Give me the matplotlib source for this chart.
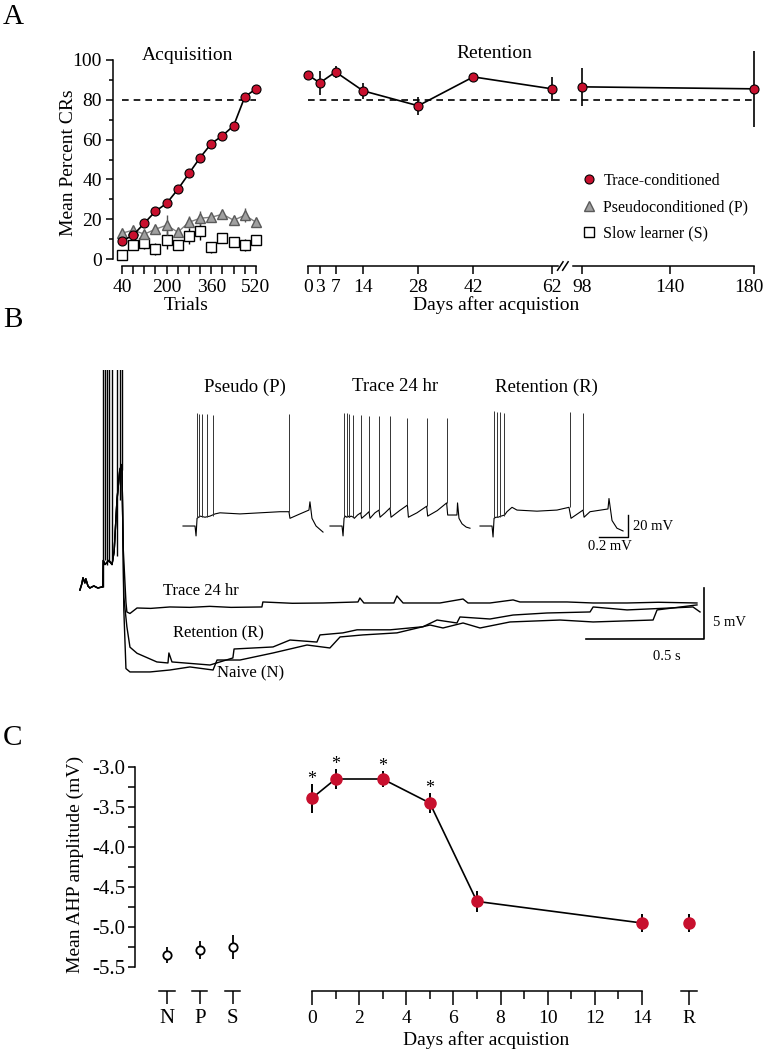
import numpy as np
import matplotlib.pyplot as plt
import matplotlib.transforms as mtransforms
from matplotlib.lines import Line2D

W, H = 763, 1050
RED = '#c8102e'

# ---- Panel A: acquisition (percent CRs per 40-trial block)
trials = [40, 80, 120, 160, 200, 240, 280, 320, 360, 400, 440, 480, 520]
trace_acq = [9, 12, 18, 24, 28, 35, 43, 51, 58, 62, 67, 81.5, 85.5]
trace_acq_err = [1.5, 1.5, 1.5, 2, 2, 2, 2, 2, 2, 2, 2, 1.5, 1]
pseudo_acq = [13, 14.5, 12.5, 15, 17, 13.5, 18.5, 20.5, 21, 22.5, 19.5, 22, 18.5]
pseudo_acq_err = [1.5, 1.5, 1.5, 2, 5, 2, 3, 3.5, 2, 2, 2, 3.5, 2]
slow_acq = [2.2, 7.2, 8, 5.2, 9.4, 7, 11.7, 14, 5.8, 10.5, 8.5, 7.2, 9.7]
slow_acq_err = [2, 2.5, 3, 3, 4.5, 2.5, 4, 4.5, 3, 2.5, 2.5, 3, 2]

# ---- Panel A: retention
ret_days = [0, 3, 7, 14, 28, 42, 62]
ret_pct = [92.5, 88.5, 94, 84.5, 77, 91.5, 85.5]
ret_err = [1, 6, 3, 4, 4.5, 1, 6]
late_days = [98, 180]
late_pct = [86.5, 85.5]
late_err = [9.5, 19]
criterion = 80

# ---- Panel B: AHP traces (time in s, mV relative to baseline)
pre_t = [0, 0.008, 0.013, 0.021, 0.025, 0.034, 0.042, 0.059, 0.076, 0.093, 0.097]
pre_v = [-0.3, 0.3, 0.9, 0.4, 0.8, 0.1, -0.1, 0.1, -0.1, 0, 0]
burst_t = [0.099, 0.106, 0.114, 0.123, 0.136, 0.145, 0.157, 0.169, 0.178]
burst_v = [2.6, 2.2, 2.4, 2.6, 2.2, 3.5, 8.5, 11.5, 12.0]
burst_spike_t = [0.097, 0.106, 0.114, 0.123, 0.136, 0.157, 0.169, 0.178]
burst_spike_base = [0, 2.6, 2.2, 2.4, 2.6, 3.0, 8.5, 11.5]

t24_t = [0.183, 0.195, 0.199, 0.212, 0.242, 0.30, 0.381, 0.466, 0.55, 0.64, 0.771,
         0.775, 0.90, 1.03, 1.178, 1.186, 1.203, 1.33, 1.343, 1.369, 1.525, 1.623,
         1.644, 1.737, 1.835, 1.864, 2.064, 2.174, 2.318, 2.45, 2.614]
t24_v = [4.0, -1.5, -2.45, -2.6, -2.06, -2.1, -1.96, -2.0, -1.9, -2.0, -1.96,
         -1.47, -1.6, -1.57, -1.47, -1.08, -1.57, -1.57, -0.88, -1.57, -1.57, -1.18,
         -1.57, -1.57, -1.27, -1.47, -1.47, -1.57, -1.57, -1.5, -1.57]

ret_t = [0.183, 0.186, 0.199, 0.212, 0.242, 0.326, 0.373, 0.377, 0.39, 0.551, 0.648,
         0.653, 0.818, 0.89, 1.004, 1.017, 1.114, 1.174, 1.314, 1.453, 1.513, 1.597,
         1.61, 1.737, 1.835, 1.979, 2.161, 2.174, 2.318, 2.597, 2.627]
ret_v = [4.0, -1.0, -3.9, -5.9, -6.5, -7.35, -7.45, -6.47, -7.35, -7.65, -6.96,
         -6.08, -5.88, -5.2, -5.4, -4.7, -4.5, -4.2, -4.2, -3.9, -3.24, -3.53,
         -2.94, -3.14, -2.75, -2.55, -2.45, -1.96, -2.25, -1.96, -2.45]

naive_t = [0.183, 0.186, 0.195, 0.212, 0.297, 0.381, 0.466, 0.564, 0.581, 0.678, 0.818,
           0.962, 1.059, 1.102, 1.199, 1.343, 1.483, 1.538, 1.623, 1.695, 1.822, 2.034,
           2.174, 2.428, 2.445, 2.614]
naive_v = [4.0, -2.25, -8.0, -8.33, -8.33, -8.14, -7.84, -8.14, -7.16, -7.16, -6.47,
           -5.69, -5.98, -4.9, -4.7, -4.5, -3.73, -4.02, -3.53, -4.02, -3.43, -3.24,
           -3.43, -3.24, -2.25, -1.76]

# ---- Panel B insets: current-step responses (ms, mV)
pseudo_t = [0, 83, 90, 97, 117, 152, 186, 221, 255, 393, 531, 669, 731, 738, 807, 869, 876, 890, 918, 966]
pseudo_v = [-65, -65, -74, -58, -56, -57, -56, -54, -53, -54, -53, -52, -52, -58, -54, -50.5, -43, -58, -65, -70.5]
pseudo_spk = [94, 112, 133, 163, 209, 733]
pseudo_spk_base = [-57, -57, -57, -57, -56, -52]
pseudo_spk_peak = [38, 37, 37, 37, 36, 37]

tr24_t = [0, 83, 90, 97, 105, 115, 125, 133, 145, 161, 168, 190, 212, 218, 245, 269, 276, 310,
          338, 345, 380, 414, 421, 480, 534, 541, 600, 667, 674, 740, 805, 812, 876, 880, 890,
          911, 940, 966]
tr24_v = [-65, -65, -74, -58, -56, -57, -56, -57, -56, -57, -58, -55, -53, -58, -55, -52, -58, -53,
          -50.5, -57, -53, -48.6, -57, -51, -46, -57, -53, -47, -56, -51, -44, -55, -55, -44, -58,
          -63, -66, -67]
tr24_spk = [97, 115, 133, 161, 212, 269, 338, 414, 534, 667, 805]
tr24_spk_base = [-57, -57, -57, -57, -53, -52, -50.5, -48.6, -46, -47, -44]
tr24_spk_peak = [38, 38, 37, 36, 36, 35, 35, 35, 33, 33, 33]

rten_t = [0, 83, 90, 97, 110, 125, 145, 170, 186, 221, 255, 393, 531, 614, 628, 711, 718, 759,
          883, 890, 911, 945, 987]
rten_v = [-65, -65, -75, -58, -57, -57, -56, -55, -52, -48, -50.5, -51.5, -50.5, -48, -58, -50.5,
          -57, -52, -49.5, -40, -60, -67, -69.5]
rten_spk = [99, 115, 138, 166, 621, 713]
rten_spk_base = [-58, -57, -57, -56, -48, -50]
rten_spk_peak = [40, 39, 39, 38, 39, 38]

# ---- Panel C: AHP amplitude
groups = ['N', 'P', 'S']
group_ahp = [-5.35, -5.29, -5.25]
group_err = [0.1, 0.115, 0.15]
days_c = [0, 1, 3, 5, 7, 14]
ahp_c = [-3.39, -3.15, -3.15, -3.45, -4.68, -4.95]
ahp_c_err = [0.18, 0.125, 0.1, 0.12, 0.13, 0.11]
signif = [True, True, True, True, False, False]
ret_ahp = -4.95
ret_ahp_err = 0.11


def box(x0, y0, x1, y1):
    # pixel rectangle (origin top-left) -> figure fraction [l, b, w, h]
    return [x0 / W, 1 - y1 / H, (x1 - x0) / W, (y1 - y0) / H]


def fxy(x, y):
    return x / W, 1 - y / H


plt.rcParams['font.family'] = ['Liberation Serif', 'DejaVu Serif']
plt.rcParams['axes.unicode_minus'] = False
plt.rcParams['axes.linewidth'] = 1.1
plt.rcParams['xtick.major.width'] = 1.1
plt.rcParams['ytick.major.width'] = 1.1
plt.rcParams['xtick.minor.width'] = 1.1
plt.rcParams['ytick.minor.width'] = 1.1

fig = plt.figure(figsize=(W / 100, H / 100), dpi=100)

FS = 14

# ================= Panel A left: acquisition
ax1 = fig.add_axes(box(113, 55, 262, 266))
ax1.set_xlim(7.8, 541.5)
ax1.set_ylim(-3.5, 102.5)
ax1.plot([trials[0], trials[-1]], [criterion, criterion], ls=(0, (4, 3)), color='black', lw=1.2)
ax1.errorbar(trials, slow_acq, yerr=slow_acq_err, fmt='s', ms=7, mfc='white', mec='black',
             mew=1.0, ecolor='black', elinewidth=1.0, capsize=0, zorder=3)
ax1.errorbar(trials, pseudo_acq, yerr=pseudo_acq_err, fmt='^-', ms=6.5, color='#808080',
             mfc='#a0a0a0', mec='#5a5a5a', lw=1.0, ecolor='#555555', elinewidth=1.0,
             capsize=0, zorder=4)
ax1.errorbar(trials, trace_acq, yerr=trace_acq_err, fmt='o-', ms=6.5, color='black',
             mfc=RED, mec='black', mew=0.8, lw=1.2, ecolor='black', elinewidth=1.0,
             capsize=0, zorder=5)
for s in ['top', 'right']:
    ax1.spines[s].set_visible(False)
ax1.spines['left'].set_bounds(0, 100)
ax1.spines['bottom'].set_bounds(40, 520)
ax1.set_yticks([0, 20, 40, 60, 80, 100])
ax1.set_yticks([10, 30, 50, 70, 90], minor=True)
ax1.set_xticks([40, 200, 360, 520])
ax1.set_xticks([80, 120, 160, 240, 280, 320, 400, 440, 480], minor=True)
ax1.tick_params(axis='y', which='major', length=5, pad=3, labelsize=FS)
ax1.tick_params(axis='y', which='minor', length=3)
ax1.tick_params(axis='x', which='both', length=6, pad=3, labelsize=FS)
ax1.text(0.5, 1.0, 'Acquisition', transform=ax1.transAxes, ha='center', va='center', fontsize=FS)
ax1.text(-0.3, 0.49, 'Mean Percent CRs', transform=ax1.transAxes, rotation=90,
         ha='center', va='center', fontsize=FS)
fig.text(*fxy(186, 305), 'Trials', ha='center', va='center', fontsize=FS)

# ================= Panel A right: retention (broken x axis)
ax2 = fig.add_axes(box(303, 55, 560, 266))
ax2.set_xlim(-1.27, 64.03)
ax3 = fig.add_axes(box(570, 55, 760, 266))
ax3.set_xlim(92.28, 182.86)
for ax in (ax2, ax3):
    ax.set_ylim(-3.5, 102.5)
    ax.patch.set_visible(False)
    for s in ['top', 'right', 'left']:
        ax.spines[s].set_visible(False)
    ax.set_yticks([])
    ax.tick_params(axis='x', length=6, pad=3, labelsize=FS)
ax2.spines['bottom'].set_bounds(0, 63.5)
ax3.spines['bottom'].set_bounds(93.5, 180)
ax2.plot([0, 64.03], [criterion, criterion], ls=(0, (4, 3)), color='black', lw=1.2, clip_on=False)
ax3.plot([92.28, 180], [criterion, criterion], ls=(0, (4, 3)), color='black', lw=1.2)
ax2.errorbar(ret_days, ret_pct, yerr=ret_err, fmt='o-', ms=6.5, color='black', mfc=RED,
             mec='black', mew=0.8, lw=1.2, ecolor='black', elinewidth=1.2, capsize=0, zorder=5)
ax3.errorbar(late_days, late_pct, yerr=late_err, fmt='o-', ms=6.5, color='black', mfc=RED,
             mec='black', mew=0.8, lw=1.2, ecolor='black', elinewidth=1.2, capsize=0, zorder=5,
             clip_on=False)
ax2.set_xticks(ret_days)
ax3.set_xticks([98, 140, 180])
# nudge the last label so it stays inside the figure
last = ax3.get_xticklabels()[-1]
last.set_transform(last.get_transform() +
                   mtransforms.ScaledTranslation(-5 / 100, 0, fig.dpi_scale_trans))
# break marks on the x axis
brk = ax2.get_xaxis_transform()
for xb in (64.1, 65.4):
    ax2.plot([xb - 0.7, xb + 0.7], [-0.02, 0.02], transform=brk, color='black', lw=1.1,
             clip_on=False)
fig.text(*fxy(494, 53), 'Retention', ha='center', va='center', fontsize=FS)
fig.text(*fxy(496, 305), 'Days after acquistion', ha='center', va='center', fontsize=FS)

handles = [
    Line2D([], [], marker='o', ls='none', ms=6.5, mfc=RED, mec='black', mew=0.8),
    Line2D([], [], marker='^', ls='none', ms=6.5, mfc='#a0a0a0', mec='#5a5a5a'),
    Line2D([], [], marker='s', ls='none', ms=7, mfc='white', mec='black'),
]
fig.legend(handles, ['Trace-conditioned', 'Pseudoconditioned (P)', 'Slow learner (S)'],
           loc='upper left', bbox_to_anchor=fxy(581, 173), frameon=False, fontsize=11.5,
           handlelength=1.0, handletextpad=0.4, labelspacing=0.65, borderpad=0,
           borderaxespad=0)

# ================= Panel B: AHP traces
axB = fig.add_axes(box(70, 370, 760, 690))
axB.set_xlim(-0.042, 2.881)
axB.set_ylim(-10.1, 21.27)
axB.axis('off')
for tt, vv in ((t24_t, t24_v), (ret_t, ret_v), (naive_t, naive_v)):
    axB.plot(pre_t + burst_t + tt, pre_v + burst_v + vv, color='black', lw=1.0)
axB.vlines(burst_spike_t, burst_spike_base, 30, color='black', lw=1.0)
axB.plot([2.144, 2.644, 2.644], [-5.1, -5.1, -0.1], color='black', lw=1.2)
axB.text(2.683, -3.53, '5 mV', ha='left', va='center', fontsize=10.5)
axB.text(2.488, -6.86, '0.5 s', ha='center', va='center', fontsize=10.5)
axB.text(0.513, -0.39, 'Trace 24 hr', ha='center', va='center', fontsize=12)
axB.text(0.585, -4.51, 'Retention (R)', ha='center', va='center', fontsize=12)
axB.text(0.725, -8.43, 'Naive (N)', ha='center', va='center', fontsize=12)

insets = [
    (183, 'Pseudo (P)', 428, pseudo_t, pseudo_v, pseudo_spk, pseudo_spk_base, pseudo_spk_peak),
    (330, 'Trace 24 hr', 449, tr24_t, tr24_v, tr24_spk, tr24_spk_base, tr24_spk_peak),
    (480, 'Retention (R)', 455, rten_t, rten_v, rten_spk, rten_spk_base, rten_spk_peak),
]
for x0, name, tx, tt, vv, spk, sb, sp in insets:
    axi = fig.add_axes(box(x0 - 5, 405, x0 + 150, 550))
    axi.set_xlim(-34.5, 1035)
    axi.set_ylim(-86.8, 45.0)
    axi.axis('off')
    axi.plot(tt, vv, color='black', lw=0.8)
    axi.vlines(spk, sb, sp, color='#333333', lw=0.7)
    axi.text(tx, 61.4, name, ha='center', va='center', fontsize=13.5)
    if x0 == 480:
        axi.plot([821, 1021, 1021], [-75, -75, -55], color='black', lw=1.0)
        axi.text(1055, -65, '20 mV', ha='left', va='center', fontsize=10.5)
        axi.text(897, -84, '0.2 mV', ha='center', va='center', fontsize=10.5)

# ================= Panel C: AHP amplitude
axC1 = fig.add_axes(box(135, 760, 250, 970))
axC2 = fig.add_axes(box(300, 760, 700, 970))
axC1.set_xlim(-0.97, 2.52)
axC2.set_xlim(-0.508, 16.465)
for ax in (axC1, axC2):
    ax.set_ylim(-5.5375, -2.9125)
    ax.patch.set_visible(False)
    for s in ['top', 'right']:
        ax.spines[s].set_visible(False)
    ax.spines['bottom'].set_position(('outward', 15))

axC1.spines['bottom'].set_visible(False)
axC1.spines['left'].set_bounds(-5.5, -3.0)
axC1.set_yticks(np.arange(-5.5, -2.99, 0.5))
axC1.set_yticks(np.arange(-5.25, -3.0, 0.5), minor=True)
axC1.yaxis.set_major_formatter(plt.FormatStrFormatter('%.1f'))
axC1.tick_params(axis='y', which='major', length=5, pad=2, labelsize=15)
axC1.tick_params(axis='y', which='minor', length=5)
axC1.set_xticks(range(len(groups)))
axC1.set_xticklabels(groups)
axC1.tick_params(axis='x', length=9, pad=4, labelsize=15)
tick1 = axC1.get_xaxis_transform(which='tick1')
for i in range(len(groups)):
    axC1.plot([i - 0.23, i + 0.23], [0, 0], transform=tick1, color='black', lw=1.1, clip_on=False)
axC1.errorbar(range(len(groups)), group_ahp, yerr=group_err, fmt='o', ms=6, mfc='white',
              mec='black', mew=1.3, ecolor='black', elinewidth=1.3, capsize=0)
axC1.text(-0.522, 0.505, 'Mean AHP amplitude (mV)', transform=axC1.transAxes, rotation=90,
          ha='center', va='center', fontsize=FS)

axC2.spines['left'].set_visible(False)
axC2.set_yticks([])
axC2.spines['bottom'].set_bounds(0, 14)
axC2.set_xticks([0, 2, 4, 6, 8, 10, 12, 14, 16])
axC2.set_xticklabels(['0', '2', '4', '6', '8', '10', '12', '14', 'R'])
axC2.set_xticks([1, 3, 5, 7, 9, 11, 13], minor=True)
axC2.tick_params(axis='x', which='major', length=10, pad=4, labelsize=FS)
axC2.tick_params(axis='x', which='minor', length=5.5)
tick2 = axC2.get_xaxis_transform(which='tick1')
axC2.plot([15.65, 16.35], [0, 0], transform=tick2, color='black', lw=1.1, clip_on=False)
axC2.errorbar(days_c, ahp_c, yerr=ahp_c_err, fmt='o-', ms=8, color='black', mfc=RED, mec=RED,
              lw=1.2, ecolor='black', elinewidth=1.4, capsize=0, zorder=4)
axC2.errorbar([16], [ret_ahp], yerr=[ret_ahp_err], fmt='o', ms=8, mfc=RED, mec=RED,
              ecolor='black', elinewidth=1.4, capsize=0, zorder=4)
for d, m, e, s in zip(days_c, ahp_c, ahp_c_err, signif):
    if s:
        axC2.annotate('*', (d, m + e), xytext=(0, 0), textcoords='offset points',
                      ha='center', va='baseline', fontsize=13)
fig.text(*fxy(486, 1040), 'Days after acquistion', ha='center', va='center', fontsize=FS)

# panel letters
fig.text(*fxy(3, 17), 'A', ha='left', va='center', fontsize=21)
fig.text(*fxy(3, 320), 'B', ha='left', va='center', fontsize=21)
fig.text(*fxy(3, 738), 'C', ha='left', va='center', fontsize=21)

fig.savefig('out.png', dpi=100)
